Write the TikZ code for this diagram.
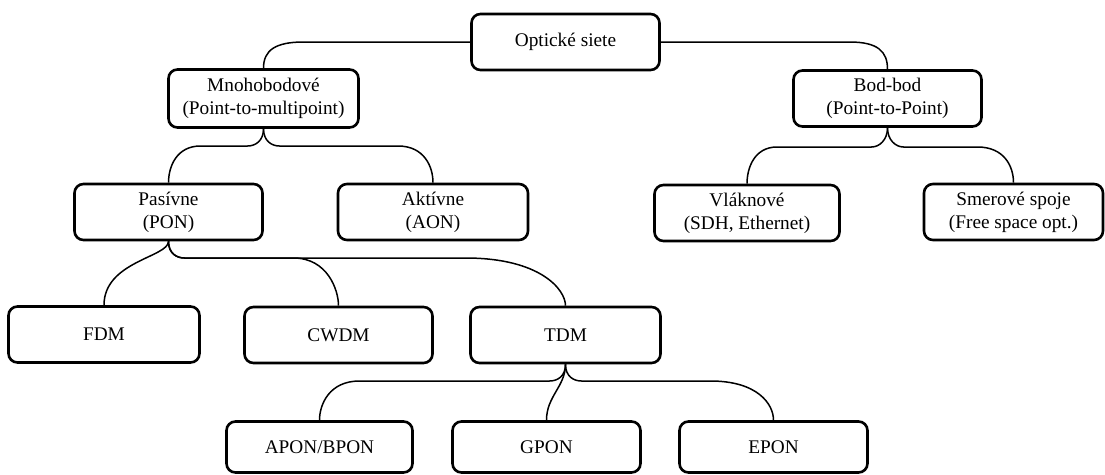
\documentclass[tikz,border=0pt]{standalone}
\usepackage{fontspec}
\setmainfont{Liberation Serif}
\usetikzlibrary{calc}
\tikzset{
  box/.style={draw, line width=2.6pt, rounded corners=9pt, minimum width=188pt,
    minimum height=56pt, align=center, inner sep=0pt,
    font=\fontsize{19.3}{23}\selectfont},
  lowbox/.style={box, minimum height=51pt},
  conn/.style={draw, line width=1.5pt}
}
\newcommand\brR[4]{\draw[conn] (#1.south) .. controls +(0,12) and +(-8,0) .. ($(#1.south|-#3)+(16,0)$) -- ($(#2.north|-#3)+(-#4,0)$) .. controls +(0.75*#4,0) and +(0,-16) .. (#2.north);}
\newcommand\brL[4]{\draw[conn] (#1.south) .. controls +(0,12) and +(8,0) .. ($(#1.south|-#3)+(-16,0)$) -- ($(#2.north|-#3)+(#4,0)$) .. controls +(-0.75*#4,0) and +(0,-16) .. (#2.north);}
\begin{document}
\begin{tikzpicture}[x=1pt,y=-1pt]
\useasboundingbox (0,0) rectangle (1105,474);
% levels
\coordinate (h1) at (0,146);
\coordinate (h2) at (0,147);
\coordinate (h3) at (0,258);
\coordinate (h4) at (0,381);
% nodes
\node[box] (opt) at (565.5,42) {Optické siete};
\node[box, minimum width=190pt, minimum height=58pt] (mno) at (263.5,98.5) {Mnohobodové\\(Point-to-multipoint)};
\node[box] (bod) at (887.5,98.5) {Bod-bod\\(Point-to-Point)};
\node[box] (pas) at (168.5,212) {Pasívne\\(PON)};
\node[box, minimum width=190pt] (akt) at (433,212) {Aktívne\\(AON)};
\node[box, minimum width=185pt] (vla) at (747,213) {Vláknové\\(SDH, Ethernet)};
\node[box, minimum width=179pt] (sme) at (1013.5,212) {Smerové spoje\\(Free space opt.)};
\node[box, minimum width=191pt] (fdm) at (104,334.5) {FDM};
\node[box] (cwdm) at (338.5,335) {CWDM};
\node[box, minimum width=190pt] (tdm) at (565.5,335) {TDM};
\node[lowbox, minimum width=186pt] (apon) at (319.5,447) {APON/BPON};
\node[lowbox] (gpon) at (546.5,447) {GPON};
\node[lowbox] (epon) at (773.5,447) {EPON};
% connectors
\draw[conn] (opt.west) -- ($(mno.north|-opt.west)+(40,0)$) .. controls +(-28,0) and +(0,-18) .. (mno.north);
\draw[conn] (opt.east) -- ($(bod.north|-opt.east)+(-38,0)$) .. controls +(28,0) and +(0,-18) .. (bod.north);
\brL{mno}{pas}{h1}{32}
\brR{mno}{akt}{h1}{35}
\brL{bod}{vla}{h2}{30}
\brR{bod}{sme}{h2}{36}
\draw[conn] (pas.south) .. controls +(0,16) and +(0,-44) .. (fdm.north);
\brR{pas}{cwdm}{h3}{45}
\brR{pas}{tdm}{h3}{100}
\brL{tdm}{apon}{h4}{40}
\draw[conn] (tdm.south) .. controls +(0,22) and +(0,-24) .. (gpon.north);
\brR{tdm}{epon}{h4}{63}
\end{tikzpicture}
\end{document}
